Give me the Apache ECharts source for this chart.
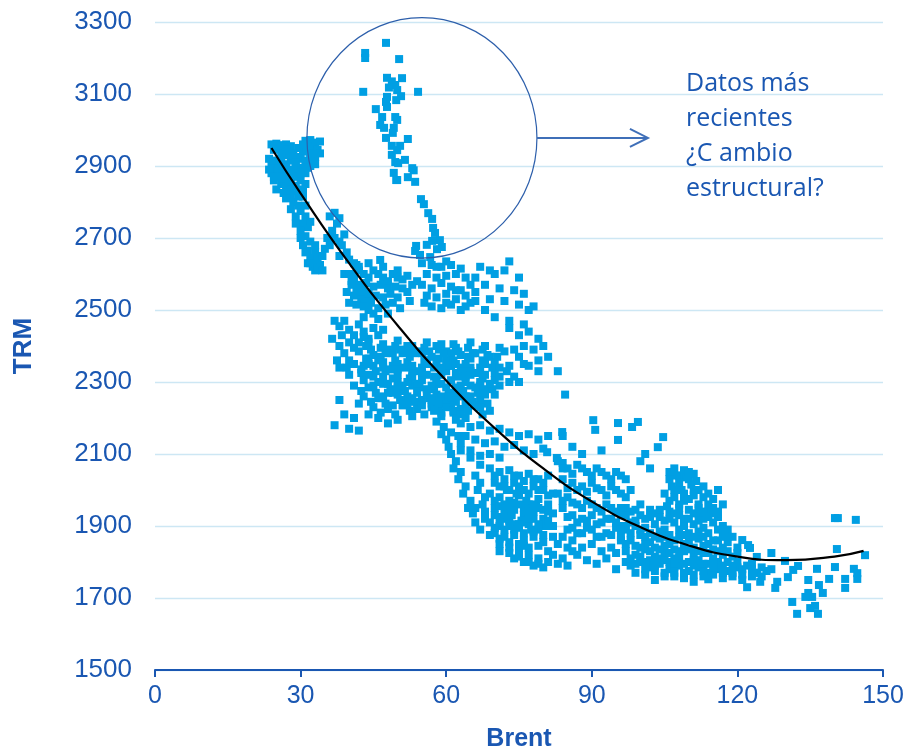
<!DOCTYPE html>
<html><head><meta charset="utf-8">
<script src="https://cdn.jsdelivr.net/npm/echarts@6/dist/echarts.min.js"></script>
<style>html,body{margin:0;padding:0;background:#fff}#c{width:907px;height:750px}</style>
</head><body><div id="c"></div>
<script>
// Tick labels
var xTicks = [0, 30, 60, 90, 120, 150];
var yTicks = [1500, 1700, 1900, 2100, 2300, 2500, 2700, 2900, 3100, 3300];

// Scatter data [Brent, TRM] grouped by region
var recentPoints = [
 [47.6,3242],[43.3,3214],[43.3,3200],[50.3,3197],[50.9,3144],[47.8,3145],[48.8,3135],[49.5,3125],[49.9,3111],[48.2,3118],
 [42.9,3106],[54.2,3106],[47.8,3092],[47.6,3078],[47.8,3064],[50.7,3094],[49.7,3083],[45.5,3058],[46.8,3036],[46.4,3014],
 [47.2,3006],[49.5,3036],[49.9,3028],[49.2,3006],[49.0,2992],[47.6,2978],[52.1,2975],[48.8,2956],[50.5,2956],[49.9,2944],
 [48.8,2931],[51.5,2917],[49.5,2911],[50.1,2908],[53.0,2894],[53.3,2888],[49.2,2881],[49.7,2861],[49.9,2861],[52.1,2869],
 [53.6,2856],[54.8,2808],[55.4,2794],[56.3,2769],[57.1,2753],[57.3,2728],[57.7,2714],[58.7,2694],[57.1,2692],[56.0,2681],
 [53.8,2678],[53.6,2664],[54.6,2653],[58.1,2669],[59.1,2675],[56.7,2647],[46.4,2639]
];
var topLeftPoints = [
 [24,2960],[25,2962],[26,2958],[27,2960],[28,2955],[25.5,2950],[24.5,2945],[31,2970],[32,2972],[33,2965],[34,2968],[31.5,2955],
 [32.5,2950],[33.5,2945],[30.5,2940],[34,2935],[23.5,2920],[24,2900],[25,2910],[26,2920],[27,2905],[28,2915],[29,2925],[30,2920],
 [31,2915],[32,2920],[33,2925],[24,2880],[25,2870],[26,2890],[27,2880],[28,2870],[29,2885],[30,2895],[31,2880],[32,2900],
 [24.5,2860],[26,2850],[27,2840],[28,2855],[29,2845],[30,2860],[31,2850],[25,2835],[26.5,2825],[28,2820],[29.5,2830],[30.5,2815],
 [27,2810],[28.5,2800],[29.5,2790],[30,2775],[31,2760],[29,2760],[30.5,2740],[31.5,2730],[30,2720],[31,2705],[32,2690],[30.5,2680],
 [31.5,2665],[33,2660],[32,2645],[33.5,2640],[34,2625],[32.5,2620],[33,2610],[34.5,2650],[35,2670],[31.5,2630],[33,2680],
 [36,2760],[37,2770],[38,2755],[37.5,2740],[36.5,2720],[37,2700],[38,2690],[39,2710],[38.5,2680],[36,2680],[35.5,2700],[39.5,2660],
 [38,2650],[40,2640],[41,2630],[42,2620],[41,2600],[40.5,2580],[42,2570],[43,2560],[41.5,2550],[43,2540],[44,2530],[39,2600],
 [29,2900],[27.5,2930],[25.5,2895],[28.5,2890],[26.5,2865],[29.5,2870],[27.5,2855],[30.5,2835],[28,2835],[31,2790],[32,2745],
 [23.5,2890],[24.5,2915],[26,2935],[27,2945],[28.5,2935],[29.5,2950],[30.5,2960],[32,2935],[33,2905],[31.5,2895],[29,2910],
 [27,2895],[25.5,2880],[24.5,2870],[26,2870],[28,2880],[30,2880],[29.5,2815],[28,2780],[29,2740],[30,2700],[31,2660],[32,2630],
 [33.5,2615],[34.5,2610]
];
var middlePoints = [
 [40,2600],[41,2590],[42,2610],[43,2600],[44,2590],[45,2610],[46,2600],[47,2590],[48,2580],[49,2600],[50,2590],[51,2585],
 [40.5,2570],[42,2560],[43.5,2575],[45,2565],[46.5,2570],[48,2560],[49.5,2565],[51,2560],[41,2540],[42.5,2530],[44,2545],[45.5,2540],
 [47,2535],[48.5,2545],[50,2535],[41.5,2515],[43,2510],[44.5,2520],[46,2505],[47.5,2515],[49,2520],[52,2550],[39.5,2550],[40,2520],
 [45,2490],[43,2480],
 [41.5,2625],[44,2630],[47,2620],[50,2610],[52,2595],[53,2570],[52.5,2525],[50.5,2505],[44,2500],[46,2475],[48,2490],
 [55,2630],[57,2625],[59,2620],[61,2625],[63,2615],[56,2600],[58,2590],[60,2595],[62,2600],[64,2590],[55,2570],[57,2560],
 [59,2575],[61,2565],[63,2555],[65,2570],[56,2540],[58,2535],[60,2545],[62,2530],[64,2540],[66,2550],[57,2510],[59,2505],
 [61,2515],[63,2500],[65,2520],[55.5,2520],[54,2580],[60,2520],[62,2555],[64,2510],[66,2525],[58,2620],[60,2635],
 [67,2620],[70,2600],[72,2610],[73,2635],[75,2590],[68,2570],[71,2560],[74,2555],[76,2545],[69,2530],[72,2525],[75,2515],
 [77,2500],[68,2500],[70,2480],[73,2470],[76,2460],[78,2510],[66,2590],[69,2610],
 [37,2470],[38,2455],[39,2470],[40,2445],[41,2430],[42,2460],[43,2440],[44,2420],[38.5,2430],[45,2450],[46,2430],[47,2445],
 [36.5,2420],[40,2410],[38,2400],[39,2380],[40,2360],[39.5,2340],[41,2395],[42,2410],[43,2425],[38,2340],[37.5,2360],
 [44,2410],[47,2405],[50,2415],[53,2400],[56,2410],[59,2405],[62,2395],[65,2410],[68,2400],[71,2395],
 [42,2385],[45,2375],[48,2390],[51,2380],[54,2385],[57,2370],[60,2385],[63,2375],[66,2380],[69,2370],[72,2385],[75,2370],
 [41,2350],[43,2345],[46,2360],[49,2345],[52,2355],[55,2340],[58,2355],[61,2345],[64,2350],[67,2340],[70,2355],[73,2345],[76,2350],
 [40,2320],[42.5,2325],[45,2315],[47.5,2330],[50,2320],[52.5,2310],[55,2325],[57.5,2315],[60,2330],[62.5,2315],[65,2320],
 [67.5,2310],[70,2325],[74,2315],[79,2330],
 [41,2290],[44,2285],[47,2295],[50,2285],[53,2290],[56,2280],[59,2295],[62,2285],[65,2290],[68,2280],[71,2290],
 [43,2260],[46,2255],[49,2270],[52,2260],[55,2250],[58,2265],[61,2255],[64,2260],[67,2250],[70,2265],
 [45,2230],[48,2225],[51,2235],[54,2225],[57,2230],[60,2240],[63,2225],[66,2235],[69,2220],
 [47,2340],[50,2300],[53,2330],[56,2360],[58,2310],[61,2270],[63,2340],[54,2270],[57,2240],[59,2215],[62,2245],[64,2300],
 [49,2380],[52,2400],[55,2380],[45,2345],[48,2270],[51,2250],[60,2360],[65,2365],[67,2290],[44,2365],[58,2400],[61,2380],
 [43.5,2400],[46.5,2395],[49.5,2400],[52.5,2390],[55.5,2395],[58.5,2390],[61.5,2405],[64.5,2395],[67.5,2390],
 [43.5,2365],[46.5,2370],[49.5,2360],[52.5,2370],[55.5,2360],[58.5,2365],[61.5,2360],[64.5,2370],[67.5,2360],[70.5,2370],
 [42.5,2335],[45.5,2330],[48.5,2335],[51.5,2340],[54.5,2330],[57.5,2340],[60.5,2345],[63.5,2330],[66.5,2325],[69.5,2340],[72.5,2330],
 [43,2305],[46,2300],[49,2310],[52,2300],[55,2305],[58,2295],[61,2305],[64,2315],[67,2300],[70,2305],[73,2300],
 [42.5,2275],[45.5,2270],[48.5,2280],[51.5,2275],[54.5,2285],[57.5,2280],[60.5,2270],[63.5,2275],[66.5,2270],[69.5,2280],
 [44.5,2245],[47.5,2240],[50.5,2250],[53.5,2245],[56.5,2255],[59.5,2250],[62.5,2260],[65.5,2245],[68.5,2240],
 [46.5,2215],[49.5,2210],[52.5,2220],[55.5,2210],[58.5,2225],[61.5,2215],[64.5,2220],[67.5,2210],
 [44.5,2390],[47.5,2380],[50.5,2390],[53.5,2380],[56.5,2385],[59.5,2380],[62.5,2385],[65.5,2380],[68.5,2375],
 [44,2350],[47,2355],[50,2350],[53,2345],[56,2350],[59,2340],[62,2350],[65,2340],[68,2350],[71,2340],
 [44,2320],[47,2315],[50,2335],[53,2315],[56,2320],[59,2320],[62,2325],[65,2330],[68,2320],[71,2315],
 [45,2290],[48,2295],[51,2290],[54,2295],[57,2290],[60,2285],[63,2290],[66,2285],[69,2295],
 [47,2260],[50,2265],[53,2255],[56,2265],[59,2260],[62,2270],[65,2260],[68,2265],
 [49,2235],[52,2240],[55,2235],[58,2245],[61,2235],[64,2240],[67,2230],
 [37,2180],[40,2170],[42,2165],[41,2200],[39,2210],[44,2210],[42,2240],[38,2250],[46,2200],[50,2195],[53,2205],[48,2185],
 [73,2450],[75,2430],[77,2440],[79,2420],[76,2400],[78,2390],[80,2400],[81,2370],[74,2390],[79,2360],[83,2330],[84.5,2265],
 [77,2345],[75,2300]
];
var lowerPoints = [
 [57,2250],[58.5,2240],[60,2230],[61.5,2220],[63,2210],[57.5,2220],[59,2205],[62,2195],[64,2200],[60.5,2260],
 [58,2190],[59.5,2175],[61,2160],[62.5,2150],[60,2140],[63,2130],[59,2155],
 [63,2185],[65,2175],[67,2180],[69,2165],[71,2170],[73,2160],[75,2150],[77,2155],[79,2140],[81,2150],[64,2150],[66,2140],
 [68,2130],[70,2135],[72,2120],[74,2125],[76,2110],[78,2100],[80,2115],[65,2110],[67,2095],[69,2100],[71,2090],
 [83.9,2161],[80.8,2105],[82.8,2089],[84,2075],
 [60.5,2120],[61,2100],[62,2080],[61.5,2060],[63,2050],[62.5,2030],[64,2010],[63.5,1990],[65,1970],[64.5,1950],[66,2040],
 [67,2020],[66.5,2000],[68,1980],[67.5,1960],[65.5,1935],[63,2110],[65,2090],[67,2070],
 [69,2060],[71,2050],[73,2055],[75,2040],[77,2045],[79,2030],[81,2040],
 [70,2020],[72,2010],[74,2020],[76,2000],[78,2010],[80,2000],[82,1990],
 [69,1990],[71,1980],[73,1970],[75,1985],[77,1960],[79,1975],[81,1960],
 [70,1950],[72,1940],[74,1945],[76,1930],[78,1940],[80,1920],[82,1935],
 [69,1910],[71,1900],[73,1915],[75,1895],[77,1905],[79,1890],[81,1900],
 [70,1880],[72,1870],[74,1875],[76,1860],[78,1870],[80,1855],
 [72.5,2000],[74.5,1990],[76.5,1970],[73.5,1930],[75.5,1915],[77.5,1890],[71.5,1925],[78.5,1955],
 [70,2040],[72,2030],[74,2040],[76,2025],[78,2030],[80,2020],
 [70,1970],[72,1960],[74,1965],[76,1950],[78,1960],[80,1945],
 [70,1930],[72,1920],[74,1905],[76,1910],[78,1920],[80,1900],
 [70,1895],[72,1890],[74,1890],[76,1880],[78,1885],[80,1875],
 [71,1865],[73,1855],[75,1850],[77,1840],[79,1845],[81,1830],
 [71,2010],[73,2000],[75,2010],[77,1990],[79,2000],[81,1985],
 [71,1955],[73,1950],[75,1960],[77,1940],[79,1950],[81,1940],
 [71,1910],[73,1900],[75,1905],[77,1920],[79,1905],[81,1915],
 [66,1950],[68,1940],[66,1910],[68,1920],[67,1890],[69,1875],[71,1850],[73,1825],[75,1815],[77,1800],[79,1795],[71,1830],
 [73,1840],[75,1830],[77,1820],[79,1810],[81,1800],[83,1795],[85,1790],[74,1810],[76,1800],[78,1790],[80,1785],[82,1820],
 [84,1810],[86,1830],[76,1845],[83,1850],[85,1840],[84,1870],[82,1870],
 [83,2080],[85,2060],[87,2070],[89,2050],[91,2060],[93,2040],[95,2050],[97,2030],
 [84,2030],[86,2020],[88,2010],[90,2020],[92,2000],[94,2010],[96,1990],[98,2000],
 [83,1990],[85,1980],[87,1960],[89,1970],[91,1950],[93,1960],[95,1940],[97,1950],
 [84,1950],[86,1930],[88,1920],[90,1930],[92,1910],[94,1920],[96,1900],[98,1910],
 [82,1900],[85,1890],[87,1880],[89,1895],[91,1870],[93,1880],
 [84,2060],[86,2045],[88,2060],[90,2040],[92,2050],[94,2030],[96,2040],
 [85,2005],[87,2000],[89,1995],[91,2005],[93,1985],[95,2000],[97,1980],
 [84,1970],[86,1965],[88,1950],[90,1960],[92,1940],[94,1950],[96,1930],
 [85,1925],[87,1910],[89,1915],[91,1905],[93,1920],[95,1895],[97,1890],
 [86,1895],[88,1880],[90,1890],[92,1870],[94,1875],[96,1860],[95,1825],[97,1800],[99,1795],
 [86,1860],[88,1840],[90,1850],[92,1830],[94,1840],[89,1805],[91,1795],[93,1810],[95,1780],[87,1820],
 [90.3,2194],[90.7,2167],[95.4,2186],[98.3,2175],[99.5,2189],[95.4,2139],[104.7,2147],[103.6,2119],[86,2120],[84,2150],
 [88,2100],[92,2110],[100,2080],[101,2100],[102,2060]
];
var rightPoints = [
 [96,1950],[98,1940],[100,1930],[102,1945],[104,1925],[106,1940],[108,1930],[110,1945],[112,1935],[114,1940],[116,1925],
 [95,1910],[97,1900],[99,1915],[101,1895],[103,1905],[105,1890],[107,1910],[109,1900],[111,1905],[113,1895],[115,1910],[117,1900],
 [96,1870],[98,1860],[100,1875],[102,1855],[104,1865],[106,1850],[108,1870],[110,1860],[112,1865],[114,1850],[116,1860],[118,1855],
 [97,1830],[99,1820],[101,1835],[103,1815],[105,1825],[107,1810],[109,1830],[111,1820],[113,1825],[115,1810],[117,1820],[119,1815],
 [98,1790],[100,1800],[102,1785],[104,1795],[106,1780],[108,1790],[110,1775],[112,1785],[114,1770],[116,1780],[118,1775],[120,1785],
 [101,1765],[105,1760],[109,1755],[113,1760],[117,1755],[121,1765],[124,1770],
 [97,1930],[99,1945],[101,1920],[103,1935],[105,1915],[107,1935],[109,1920],[111,1935],[113,1920],[115,1935],
 [96,1890],[98,1880],[100,1890],[102,1880],[104,1885],[106,1875],[108,1890],[110,1880],[112,1885],[114,1880],[116,1890],
 [97,1850],[99,1845],[101,1850],[103,1840],[105,1845],[107,1835],[109,1850],[111,1840],[113,1845],[115,1835],[117,1840],
 [98,1810],[100,1815],[102,1805],[104,1810],[106,1800],[108,1810],[110,1800],[112,1805],[114,1795],[116,1800],[118,1800],
 [103,1775],[107,1770],[111,1765],[115,1765],[119,1770],[103,1750],[111,1745],[107,1760],[114,1752],
 [99,1770],[101,1780],[103,1790],[105,1770],[107,1785],[109,1770],[111,1790],[113,1775],[115,1785],[117,1770],[119,1790],
 [121,1780],[123,1795],[118,1830],[120,1825],[118,1870],[117,1960],[115,1975],[113,1940],[114,1990],[116,2000],
 [100,1960],[102,1925],[104,1945],[106,1920],[108,1950],[110,1920],[112,1915],[114,1925],
 [99,1900],[101,1870],[103,1870],[105,1870],[107,1860],[109,1875],[111,1870],[113,1870],[115,1860],[117,1870],
 [100,1840],[102,1830],[104,1835],[106,1825],[108,1830],[110,1835],[112,1830],[114,1825],[116,1830],
 [101,1800],[103,1800],[105,1805],[107,1795],[109,1795],[111,1805],[113,1795],[115,1800],[117,1790],
 [106,2050],[107,2060],[108,2040],[109,2055],[110,2030],[111,2045],[106.5,2010],[108.5,2000],[110.5,2015],[107,1980],[109,1970],
 [111,1985],[112,1960],[105,1990],[112,2000],[113,1980],[114,1960],[115,1950],[116,1940],[117,1890],
 [107.5,2040],[109.5,2035],[106,2030],[108,2020],[110,2050],[111.5,2025],[107,2000],[109,1990],[111,2000],[106,1970],[108,1960],
 [110,1975],[112,1950],[113,2010],[105.5,1955],
 [118,1890],[119,1870],[120,1840],[121,1861],[122.2,1847],[122.6,1839],[124,1814],[120,1800],[122,1790],[123,1780],[124,1770],
 [125,1785],[126,1775],[119,1760],[121,1750],[123,1760],[125,1760],[127,1780]
];
var tailPoints = [
 [122,1730],[124.7,1745],[127.8,1728],[128.2,1745],[127,1825],[129.8,1803],[130.4,1758],[132.5,1789],[131.5,1778],[136.4,1781],
 [134.6,1750],[138.9,1753],[140.1,1786],[140.5,1836],[142.2,1753],[142.2,1728],[144,1781],[144.7,1769],[144.7,1753],[146.3,1819],
 [140.1,1922],[140.7,1922],[144.4,1917],[131.3,1689],[132.3,1656],[134,1703],[134.6,1714],[135.4,1703],[136,1678],[135,1672],
 [136.6,1656],[136.8,1736],[137.6,1714]
];
// Trend line
var trendX = [24, 30, 40, 50, 60, 70, 80, 90, 100, 110, 120, 130, 140, 146];
var trendY = [2950, 2824, 2630, 2457, 2304, 2172, 2060, 1968, 1897, 1846, 1815, 1805, 1815, 1831];

var allPoints = recentPoints.concat(topLeftPoints, middlePoints, lowerPoints, rightPoints, tailPoints);
var trendData = trendX.map(function (x, i) { return [x, trendY[i]]; });

var blue = '#1a57b2';
var chart = echarts.init(document.getElementById('c'));
chart.setOption({
  animation: false,
  backgroundColor: '#fff',
  grid: { left: 155, right: 24, top: 22, bottom: 80, containLabel: false, outerBoundsMode: 'none' },
  xAxis: {
    type: 'value', min: xTicks[0], max: xTicks[xTicks.length - 1], interval: 30,
    name: 'Brent', nameLocation: 'middle', nameGap: 57,
    nameTextStyle: { color: blue, fontSize: 25, fontWeight: 'bold', fontFamily: 'Liberation Sans' },
    axisLine: { show: true, lineStyle: { color: blue, width: 2 } },
    axisTick: { show: true, length: 7, lineStyle: { color: blue, width: 2 } },
    splitLine: { show: false },
    axisLabel: { color: blue, fontSize: 25, margin: 14, fontFamily: 'Liberation Sans',
      formatter: function (v) { return String(v); } }
  },
  yAxis: {
    type: 'value', min: yTicks[0], max: yTicks[yTicks.length - 1], interval: 200,
    name: 'TRM', nameLocation: 'middle', nameGap: 118,
    nameTextStyle: { color: blue, fontSize: 26, fontWeight: 'bold', fontFamily: 'Liberation Sans' },
    axisLine: { show: false }, axisTick: { show: false },
    splitLine: { show: true, lineStyle: { color: '#cde7f4', width: 1.3 } },
    axisLabel: { color: blue, fontSize: 26, margin: 23, fontFamily: 'Liberation Sans',
      formatter: function (v) { return String(v); } }
  },
  series: [
    { type: 'scatter', data: allPoints, symbol: 'rect', symbolSize: 8,
      itemStyle: { color: '#009fe3', opacity: 1 }, z: 2 },
    { type: 'line', data: trendData, smooth: true, showSymbol: false, symbol: 'none',
      lineStyle: { color: '#000', width: 2.2 }, z: 3 }
  ]
});

// Annotation: circle, arrow and text
var c = chart.convertToPixel({ gridIndex: 0 }, [55, 2978]);
var r = 115;
chart.setOption({
  graphic: [
    { type: 'circle', shape: { cx: c[0], cy: c[1], r: r }, scaleY: 1.045, originX: c[0], originY: c[1],
      style: { fill: 'none', stroke: '#2d5fab', lineWidth: 1.2 }, z: 10 },
    { type: 'line', shape: { x1: c[0] + r, y1: c[1], x2: c[0] + r + 111, y2: c[1] },
      style: { stroke: '#3f6fb8', lineWidth: 2 }, z: 10 },
    { type: 'polyline', shape: { points: [[c[0] + r + 93, c[1] - 9], [c[0] + r + 111, c[1]], [c[0] + r + 93, c[1] + 9]] },
      style: { stroke: '#3f6fb8', lineWidth: 2, fill: 'none' }, z: 10 },
    { type: 'text', left: 686, top: 66, z: 10,
      style: { text: 'Datos más\nrecientes\n¿C ambio\nestructural?', fill: blue, fontSize: 25,
        fontFamily: 'Open Sans', lineHeight: 35 } }
  ]
});
</script>
</body></html>
